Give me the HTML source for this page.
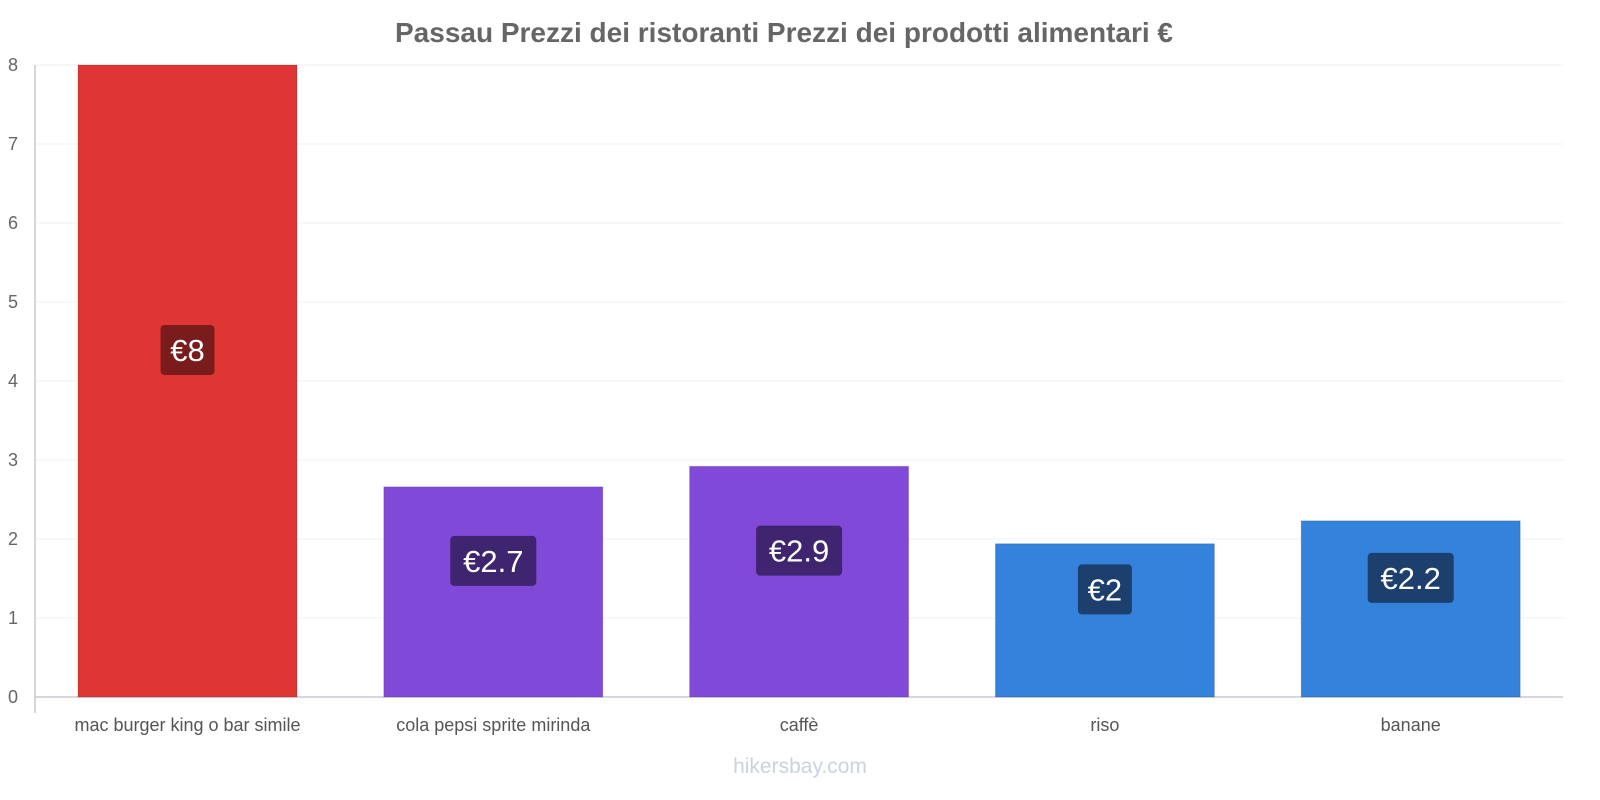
<!DOCTYPE html>
<html><head><meta charset="utf-8"><style>
body{margin:0;background:#fff;font-family:"Liberation Sans",sans-serif}
svg{display:block}
</style></head><body>
<svg id="c" width="1600" height="800">
<text x="784" y="42" text-anchor="middle" font-size="28" font-weight="bold" fill="#666">Passau Prezzi dei ristoranti Prezzi dei prodotti alimentari €</text>
<text x="800" y="773" text-anchor="middle" font-size="21" fill="#ccd2dc">hikersbay.com</text>
</svg>
<script>
const categories=["mac burger king o bar simile","cola pepsi sprite mirinda","caffè","riso","banane"];
const values=[8,2.66,2.92,1.94,2.23];
const labels=["€8","€2.7","€2.9","€2","€2.2"];
const colors=["#e03535","#8049d8","#8049d8","#3582dc","#3582dc"];
const labelBg=["#7a1c1c","#3f2470","#3f2470","#1c3f6e","#1c3f6e"];
const ticks=[0,1,2,3,4,5,6,7,8];
const svg=document.getElementById('c'),NS="http://www.w3.org/2000/svg";
const y=v=>697-v*79;
const x=i=>187.5+i*305.8;
function mk(t,a,p){const e=document.createElementNS(NS,t);for(const k in a)e.setAttribute(k,a[k]);(p||svg).appendChild(e);return e;}
ticks.forEach(t=>{
 const g=mk('line',{x1:35,x2:1563,y1:y(t),y2:y(t),stroke:t?'#f2f2f2':'#c8c8d4','stroke-width':t?1:1.5});
 
 
 const l=mk('text',{x:18,y:y(t)+6,'text-anchor':'end','font-size':18,fill:'#666'});l.textContent=t;
 
 
});
const ax=mk('line',{x1:35,x2:35,y1:65,y2:713,stroke:'#c8c8d4','stroke-width':1.5});


categories.forEach((c,i)=>{
 const cx=x(i),top=y(values[i]);
 const b=mk('rect',{x:cx-109.5,y:top,width:219,height:697-top,fill:colors[i],stroke:'rgba(0,0,0,0.15)'});
 
 
 const ly=(top+697)/2-31;
 const w=labels[i].length*16+22;
 const r=mk('rect',{x:cx-w/2,y:ly-25,width:w,height:50,rx:4,fill:labelBg[i]});
 
 
 const t=mk('text',{x:cx,y:ly+11,'text-anchor':'middle','font-size':31,fill:'#fff'});t.textContent=labels[i];
 
 
 const cl=mk('text',{x:cx,y:731,'text-anchor':'middle','font-size':18,fill:'#555'});cl.textContent=c;
 
 
});
</script>
</body></html>
